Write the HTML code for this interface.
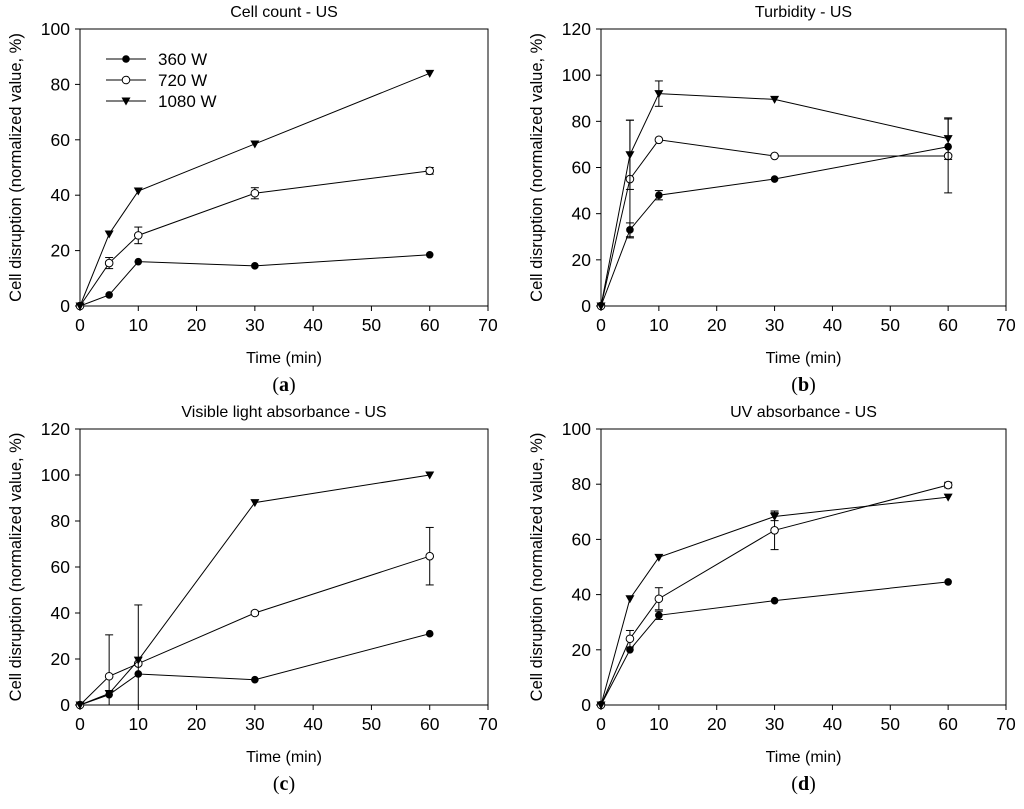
<!DOCTYPE html>
<html><head><meta charset="utf-8"><style>
body{margin:0;background:#fff}
svg text{font-family:"Liberation Sans",sans-serif;fill:#000}
</style></head><body>
<svg id="fig" width="1024" height="804" xmlns="http://www.w3.org/2000/svg"></svg>
<script>
const xCats=[0,5,10,30,60];
const xTicks=[0,10,20,30,40,50,60,70];
// panel a
const a360=[0,4,16,14.5,18.5];
const a720=[0,15.5,25.5,40.7,48.8];
const a720err=[0,2,3,2,1.2];
const a1080=[0,26,41.5,58.5,84];
const aYTicks=[0,20,40,60,80,100];
// panel b
const b360=[0,33,48,55,69];
const b360err=[0,3,2,0,0];
const b720=[0,55,72,65,65];
const b720err=[0,25.5,0,0,16];
const b1080=[0,65.5,92,89.5,72.5];
const b1080err=[0,15,5.5,0,9];
const bYTicks=[0,20,40,60,80,100,120];
// panel c
const c360=[0,4.5,13.5,11,31];
const c720=[0,12.5,18,40,64.7];
const c720err=[0,18,0,0.8,12.5];
const c1080=[0,5,19.5,88,100];
const c1080err=[0,0,24,0,0];
const cYTicks=[0,20,40,60,80,100,120];
// panel d
const d360=[0,20,32.5,37.8,44.6];
const d360err=[0,0,1.5,0,0];
const d720=[0,24,38.5,63.3,79.7];
const d720err=[0,3,4,7,1];
const d1080=[0,38.5,53.5,68.3,75.3];
const d1080err=[0,0,0,1.5,0];

const NS="http://www.w3.org/2000/svg";
const svg=document.getElementById('fig');
function mk(tag,attrs,parent,txt){const e=document.createElementNS(NS,tag);for(const k in attrs)e.setAttribute(k,attrs[k]);if(txt!==undefined)e.textContent=txt;(parent||svg).appendChild(e);return e;}

function panel(id,box,ymax,yTicks,title,label,series,legend){
  const g=mk('g',{});
  
  
  const [x0,x1,yTop,yBot]=box;
  const sx=v=>x0+(v/70)*(x1-x0);
  const sy=v=>yBot-(v/ymax)*(yBot-yTop);
  const fr=mk('rect',{x:x0,y:yTop,width:x1-x0,height:yBot-yTop,fill:'none',stroke:'#000','stroke-width':1},g);
  
  
  xTicks.forEach(t=>{
    mk('line',{x1:sx(t),x2:sx(t),y1:yBot,y2:yBot+5,stroke:'#000'},g);
    const tl=mk('text',{x:sx(t),y:yBot+25,'font-size':17.5,'text-anchor':'middle'},g,t);
    
    
  });
  yTicks.forEach(t=>{
    mk('line',{x1:x0-5,x2:x0,y1:sy(t),y2:sy(t),stroke:'#000'},g);
    const tl=mk('text',{x:x0-10,y:sy(t)+6,'font-size':17.5,'text-anchor':'end'},g,t);
    
    
  });
  const tt=mk('text',{x:(x0+x1)/2,y:yTop-12,'font-size':16,'text-anchor':'middle'},g,title);
  
  
  const xl=mk('text',{x:(x0+x1)/2,y:yBot+57,'font-size':16,'text-anchor':'middle'},g,'Time (min)');
  
  
  const yl=mk('text',{x:0,y:0,'font-size':16.5,'text-anchor':'middle',transform:`translate(${x0-59},${(yTop+yBot)/2}) rotate(-90)`},g,'Cell disruption (normalized value, %)');
  
  
  const pl=mk('text',{x:(x0+x1)/2,y:yBot+85,'font-size':20,'text-anchor':'middle'},g);
  pl.style.fontFamily='"Liberation Serif",serif';
  mk('tspan',{},pl,'(');mk('tspan',{'font-weight':'bold'},pl,label);mk('tspan',{},pl,')');
  
  
  function marker(type,x,y,gg){
    if(type==='filled')return mk('circle',{cx:x,cy:y,r:3.8,fill:'#000'},gg);
    if(type==='open')return mk('circle',{cx:x,cy:y,r:3.8,fill:'#fff',stroke:'#000','stroke-width':1},gg);
    return mk('polygon',{points:`${x-4.5},${y-3.5} ${x+4.5},${y-3.5} ${x},${y+4.5}`,fill:'#000'},gg);
  }
  series.forEach(s=>{
    const sg=mk('g',{},g);
    
    
    const pts=xCats.map((c,i)=>sx(c)+','+sy(s.vals[i])).join(' ');
    mk('polyline',{points:pts,fill:'none',stroke:'#000','stroke-width':1},sg);
    xCats.forEach((c,i)=>{
      const e=s.err?s.err[i]:0;
      if(e>0){
        const x=sx(c);
        const lo=Math.max(0,s.vals[i]-e);
        mk('line',{x1:x,x2:x,y1:sy(lo),y2:sy(s.vals[i]+e),stroke:'#000'},sg);
        mk('line',{x1:x-4,x2:x+4,y1:sy(s.vals[i]+e),y2:sy(s.vals[i]+e),stroke:'#000'},sg);
        mk('line',{x1:x-4,x2:x+4,y1:sy(lo),y2:sy(lo),stroke:'#000'},sg);
      }
      const m=marker(s.type,sx(c),sy(s.vals[i]),sg);
      
      
    });
  });
  if(legend){
    series.forEach((s,i)=>{
      const ly=yTop+30+i*21;
      const lg=mk('g',{},g);
      
      
      mk('line',{x1:x0+26,x2:x0+66,y1:ly,y2:ly,stroke:'#000'},lg);
      marker(s.type,x0+46,ly,lg);
      mk('text',{x:x0+78,y:ly+6,'font-size':17},lg,s.name);
    });
  }
}
panel('a',[80,488,29,306],100,aYTicks,'Cell count - US','a',[
 {name:'360 W',type:'filled',vals:a360},
 {name:'720 W',type:'open',vals:a720,err:a720err},
 {name:'1080 W',type:'tri',vals:a1080}],true);
panel('b',[601,1006,29,306],120,bYTicks,'Turbidity - US','b',[
 {name:'360 W',type:'filled',vals:b360,err:b360err},
 {name:'720 W',type:'open',vals:b720,err:b720err},
 {name:'1080 W',type:'tri',vals:b1080,err:b1080err}],false);
panel('c',[80,488,429,705],120,cYTicks,'Visible light absorbance - US','c',[
 {name:'360 W',type:'filled',vals:c360},
 {name:'720 W',type:'open',vals:c720,err:c720err},
 {name:'1080 W',type:'tri',vals:c1080,err:c1080err}],false);
panel('d',[601,1006,429,705],100,aYTicks,'UV absorbance - US','d',[
 {name:'360 W',type:'filled',vals:d360,err:d360err},
 {name:'720 W',type:'open',vals:d720,err:d720err},
 {name:'1080 W',type:'tri',vals:d1080,err:d1080err}],false);
</script>
</body></html>
